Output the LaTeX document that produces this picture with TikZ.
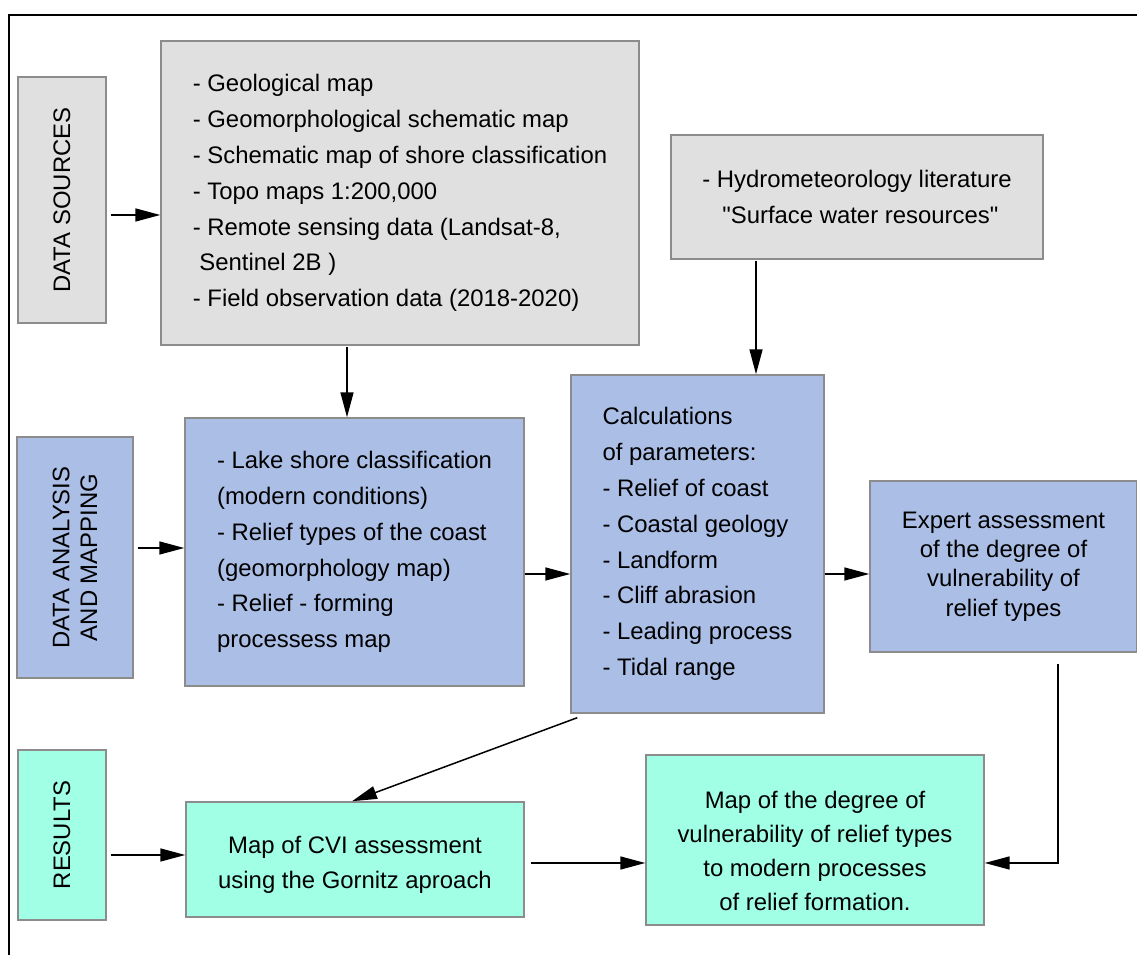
\documentclass[tikz,border=0pt]{standalone}
\usepackage{fontspec}
\setmainfont{Liberation Sans}[Ligatures=TeXOff]
\usetikzlibrary{arrows.meta}
\definecolor{grayfill}{RGB}{224,224,224}
\definecolor{bluefill}{RGB}{170,190,230}
\definecolor{tealfill}{RGB}{160,255,228}
\definecolor{edgegray}{RGB}{140,140,140}
\tikzset{
  box/.style={draw=edgegray, line width=0.03cm, inner sep=0pt, font=\fontsize{13.6}{20.4}\selectfont},
  gbox/.style={box, fill=grayfill},
  bbox/.style={box, fill=bluefill},
  tbox/.style={box, fill=tealfill},
  arr/.style={line width=0.03cm, -{Triangle[length=0.5cm,width=0.26cm]}},
}
\begin{document}
\begin{tikzpicture}[x=0.02cm,y=-0.02cm]
\useasboundingbox (0,0) rectangle (1137,955);
\draw[line width=0.04cm] (9,955) -- (9,15) -- (1137,15);

% row 1
\node[gbox, rotate=90, minimum width=4.92cm, minimum height=1.76cm] (ds) at (62,200) {DATA SOURCES};
\node[gbox, minimum width=9.56cm, minimum height=6.08cm, align=left] (src) at (400,193) {%
- Geological map\\
- Geomorphological schematic map\\
- Schematic map of shore classification\\
- Topo maps 1:200,000\\
- Remote sensing data (Landsat-8,\\
\ Sentinel 2B )\\
- Field observation data (2018-2020)};
\node[gbox, minimum width=7.44cm, minimum height=2.48cm, align=center] (hyd) at (857,197) {%
- Hydrometeorology literature\\
\ "Surface water resources"};

% row 2
\node[bbox, rotate=90, minimum width=4.82cm, minimum height=2.32cm, align=center,
  font=\fontsize{13.6}{15.9}\selectfont] (da) at (75,557.5) {DATA ANALYSIS\\AND MAPPING};
\node[bbox, minimum width=6.78cm, minimum height=5.36cm, align=left] (lake) at (354.5,552) {%
- Lake shore classification\\
(modern conditions)\\
- Relief types of the coast\\
(geomorphology map)\\
- Relief - forming\\
processess map};
\node[bbox, minimum width=5.06cm, minimum height=6.76cm, align=left] (calc) at (697.5,544) {%
Calculations\\
of parameters:\\
- Relief of coast\\
- Coastal geology\\
- Landform\\
- Cliff abrasion\\
- Leading process\\
- Tidal range};
\node[bbox, minimum width=5.34cm, minimum height=3.42cm, align=center,
  font=\fontsize{13.6}{16.7}\selectfont] (exp) at (1003.5,566.5) {%
Expert assessment\\
of the degree of\\
vulnerability of\\
relief types};

% row 3
\node[tbox, rotate=90, minimum width=3.4cm, minimum height=1.76cm] (res) at (62,835) {RESULTS};
\node[tbox, minimum width=6.76cm, minimum height=2.3cm, align=center,
  font=\fontsize{13.6}{19.8}\selectfont] (cvi) at (355,859.5) {%
\rule{0pt}{15.5pt}Map of CVI assessment\\
using the Gornitz aproach};
\node[tbox, minimum width=6.76cm, minimum height=3.4cm, align=center,
  font=\fontsize{13.6}{19.3}\selectfont] (map) at (815,840) {%
\rule{0pt}{22.5pt}Map of the degree of\\
vulnerability of relief types\\
to modern processes\\
of relief formation.};

% connectors
\draw[arr, shorten <=0.08cm] ([yshift=-0.3cm]ds.south) -- ([yshift=-0.3cm]ds.south -| src.west);
\draw[arr, shorten <=0.02cm] ([xshift=-1.06cm]src.south) -- ([xshift=-1.06cm]src.south |- lake.north);
\draw[arr, shorten <=0.02cm] ([xshift=-2.02cm]hyd.south) -- ([xshift=-2.02cm]hyd.south |- calc.north);
\draw[arr, shorten <=0.08cm] ([yshift=0.19cm]da.south) -- ([yshift=0.19cm]da.south -| lake.west);
\draw[arr] ([yshift=-0.44cm]lake.east) -- ([yshift=-0.44cm]lake.east -| calc.west);
\draw[arr] ([yshift=-0.6cm]calc.east) -- ([yshift=-0.6cm]calc.east -| exp.west);
\draw[arr] ([xshift=0.14cm,yshift=-0.08cm]calc.south west) -- ([xshift=-0.06cm]cvi.north);
\draw[arr, shorten <=0.08cm] ([yshift=-0.4cm]res.south) -- ([yshift=-0.4cm]res.south -| cvi.west);
\draw[arr, shorten <=0.12cm] ([yshift=-0.07cm]cvi.east) -- ([yshift=-0.07cm]cvi.east -| map.west);
\draw[arr, shorten <=0.22cm] ([xshift=1.09cm]exp.south) |- ([yshift=-0.46cm]map.east);
\end{tikzpicture}
\end{document}
